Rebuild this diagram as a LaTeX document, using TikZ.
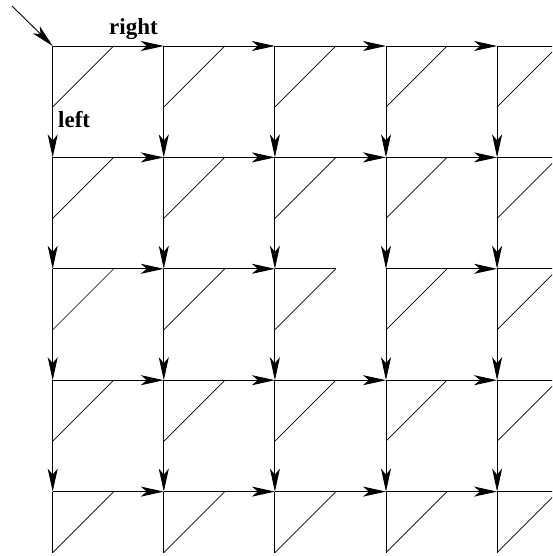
\documentclass[tikz,border=0pt]{standalone}
\usepackage{fontspec}
\setmainfont{Liberation Serif}
\usetikzlibrary{arrows.meta}
\begin{document}
\begin{tikzpicture}[x=1pt,y=-1pt,
  edge/.style={line width=0.9pt,-{Stealth[length=23pt,width=10pt,inset=6pt]}},
  plain/.style={line width=0.9pt},
  diag/.style={line width=0.7pt},
  lbl/.style={font=\fontsize{23}{26}\selectfont\bfseries,inner sep=0pt}]
\useasboundingbox (0,0) rectangle (552,556);
\clip (0,0) rectangle (552,556);
\foreach \i in {0,...,4}{
  \foreach \j in {0,...,4}{
    \coordinate (n\i\j) at ({52.7+111.1*\i},{46+111.4*\j});
    \coordinate (d\i\j) at ({52.7+111.1*\i+61},{46+111.4*\j});
    \coordinate (b\i\j) at ({52.7+111.1*\i},{46+111.4*\j+61});
    \draw[diag] (b\i\j) -- (d\i\j);
  }
}
% horizontal edges
\foreach \j in {0,...,4}{
  \foreach \i/\k in {0/1,1/2,2/3,3/4}{
    \ifnum\j=2 \ifnum\i=2 \else \draw[edge] (n\i\j) -- (n\k\j); \fi
    \else \draw[edge] (n\i\j) -- (n\k\j); \fi
  }
  \coordinate (e\j) at ({52.7+111.1*5},{46+111.4*\j});
  \draw[plain] (n4\j) -- (e\j);
}
\draw[plain] (n22) -- (d22);
% vertical edges
\foreach \i in {0,...,4}{
  \foreach \j/\k in {0/1,1/2,2/3,3/4}{
    \draw[edge] (n\i\j) -- (n\i\k);
  }
  \draw[plain] (n\i4) -- (b\i4);
}
% entry arrow
\coordinate (start) at (12,6);
\draw[edge] (start) -- (n00);
\node[lbl,anchor=base west] (rightlbl) at (109,35) {right};
\node[lbl,anchor=base west] (leftlbl) at (58,127.6) {left};
\end{tikzpicture}
\end{document}
